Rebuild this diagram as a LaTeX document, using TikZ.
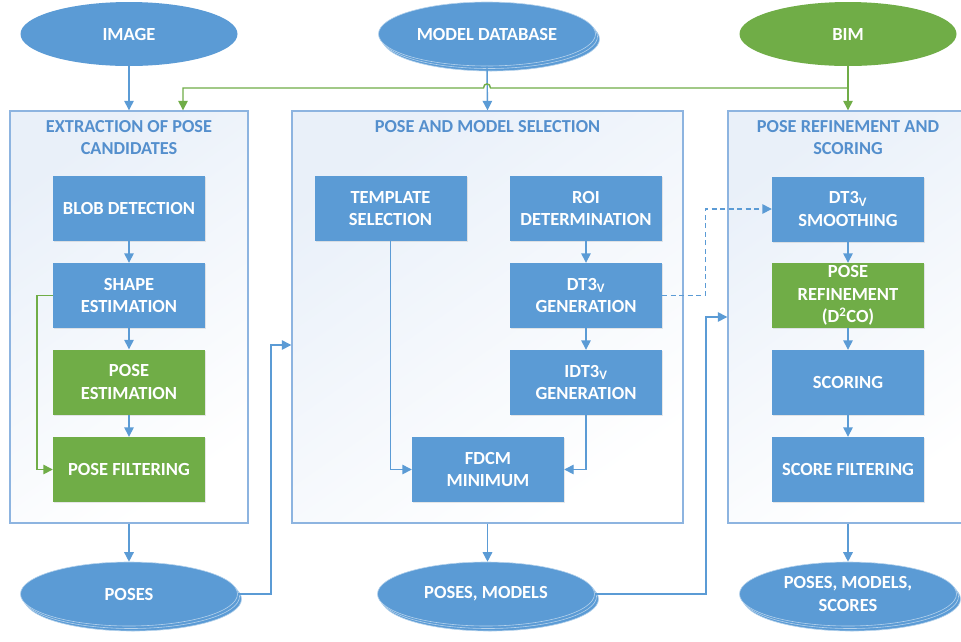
\documentclass[tikz,border=0pt]{standalone}
\usepackage{fontspec}
\setmainfont{Carlito}
\usetikzlibrary{arrows.meta,shapes.geometric,shadows}
\definecolor{oblue}{HTML}{5B9BD5}
\definecolor{ogreen}{HTML}{70AD47}
\definecolor{pborder}{HTML}{8DB4E0}
\definecolor{ptitle}{HTML}{548FCD}
\definecolor{pfill}{HTML}{E9F0F9}
\begin{document}
\begin{tikzpicture}[x=1pt,y=-1pt,
  boxtxt/.style={font=\bfseries\fontsize{18.5}{22.5}\selectfont},
  stepbox/.style={rectangle, fill=oblue, minimum width=152pt, minimum height=65pt, inner sep=0pt,
     text=white, align=center, boxtxt, drop shadow={opacity=0.18, shadow xshift=1.2pt, shadow yshift=-1.2pt}},
  gbox/.style={stepbox, fill=ogreen},
  panel/.style={rectangle, draw=pborder, line width=1.4pt, top color=pfill, bottom color=white, shading angle=35, inner sep=0pt},
  ptxt/.style={text=ptitle, align=center, font=\bfseries\fontsize{18.3}{22}\selectfont},
  ell/.style={ellipse, fill=oblue, minimum width=217pt, minimum height=64pt, inner sep=0pt, text=white, align=center, boxtxt},
  ellback/.style={ell, draw=white!55!oblue, line width=0.6pt},
  arr/.style={draw=oblue, line width=1.4pt, -{Triangle[length=9.5pt,width=9.5pt]}},
  garr/.style={draw=ogreen, line width=1.4pt, -{Triangle[length=9.5pt,width=9.5pt]}},
  darr/.style={arr, dash pattern=on 5pt off 3.5pt}
]
\fill[white] (0,0) rectangle (961,641);
\useasboundingbox (0,0) rectangle (961,641);

% panels
\node[panel, minimum width=238pt, minimum height=412pt] (p1) at (129,317) {};
\node[panel, minimum width=391pt, minimum height=412pt] (p2) at (487.5,317) {};
\node[panel, minimum width=240pt, minimum height=412pt] (p3) at (848,317) {};
\node[ptxt] (t1) at (129,138) {EXTRACTION OF POSE\\CANDIDATES};
\node[ptxt] (t2) at (487.5,127) {POSE AND MODEL SELECTION};
\node[ptxt] (t3) at (848,138) {POSE REFINEMENT AND\\SCORING};

% panel 1 boxes
\node[stepbox] (blob) at (129,208.5) {BLOB DETECTION};
\node[stepbox] (shape) at (129,295.5) {SHAPE\\ESTIMATION};
\node[gbox] (pest) at (129,382) {POSE\\ESTIMATION};
\node[gbox] (pfilt) at (129,469.5) {POSE FILTERING};

% panel 2 boxes
\node[stepbox] (tmpl) at (390.5,208.5) {TEMPLATE\\SELECTION};
\node[stepbox] (roi) at (586,208.5) {ROI\\DETERMINATION};
\node[stepbox] (dtg) at (586,295.5) {DT3\textsubscript{V}\\GENERATION};
\node[stepbox] (idtg) at (586,382.5) {IDT3\textsubscript{V}\\GENERATION};
\node[stepbox] (fdcm) at (488,469.5) {FDCM\\MINIMUM};

% panel 3 boxes
\node[stepbox] (dts) at (848,209) {DT3\textsubscript{V}\\SMOOTHING};
\node[gbox] (pref) at (848,295.5) {POSE\\REFINEMENT\\(D\textsuperscript{2}CO)};
\node[stepbox] (scor) at (848,382.5) {SCORING};
\node[stepbox] (sfilt) at (848,469.5) {SCORE FILTERING};

% top ellipses
\node[ell] (img) at (129,34) {IMAGE};
\node[ellback] at (491,39) {};
\node[ellback] at (489,36.5) {};
\node[ell, draw=white!55!oblue, line width=0.6pt] (mdb) at (487,34) {MODEL DATABASE};
\node[ell, fill=ogreen] (bim) at (848,34) {BIM};

% bottom ellipses
\node[ellback] at (133,599) {};
\node[ellback] at (131,596.5) {};
\node[ellback] (poses) at (129,594) {POSES};
\node[ellback] at (490,599) {};
\node[ellback] at (488,596.5) {};
\node[ellback] (pm) at (486,594) {POSES, MODELS};
\node[ellback] at (852,599) {};
\node[ellback] at (850,596.5) {};
\node[ellback] (pms) at (848,594) {POSES, MODELS,\\SCORES};

% top connectors
\draw[arr] (img.south) -- (p1.north);
\draw[arr] (mdb.south) -- (p2.north);
\draw[garr] (bim.south) -- (p3.north);
\coordinate (gR) at (848,88);
\coordinate (gJr) at (490.5,88);
\coordinate (gJl) at (483.5,88);
\coordinate (gL) at (183,88);
\draw[garr] (gR) -- (gJr) .. controls (490.5,82.5) and (483.5,82.5) .. (gJl) -- (gL) -- (gL |- p1.north);

% panel 1 connectors
\draw[arr] (blob) -- (shape);
\draw[arr] (shape) -- (pest);
\draw[arr] (pest) -- (pfilt);
\draw[garr] (shape.west) -- ++(-16,0) |- (pfilt.west);

% panel 2 connectors
\draw[arr] (roi) -- (dtg);
\draw[arr] (dtg) -- (idtg);
\draw[arr] (tmpl.south) |- (fdcm.west);
\draw[arr] (idtg.south) |- (fdcm.east);

% panel 3 connectors
\draw[arr] (dts) -- (pref);
\draw[arr] (pref) -- (scor);
\draw[arr] (scor) -- (sfilt);
\draw[darr] (dtg.east) -- ++(43,0) |- (dts.west);

% bottom connectors
\draw[arr] (p1.south) -- (poses.north);
\draw[arr] (p2.south) -- (pm.north -| p2.south);
\draw[arr] (p3.south) -- (pms.north);
\coordinate (c1) at (271,345);
\draw[arr] (poses.east) -| (c1) -- (c1 -| p2.west);
\coordinate (c2) at (706,317);
\draw[arr] (pm.east) -| (c2) -- (p3.west);
\end{tikzpicture}
\end{document}
